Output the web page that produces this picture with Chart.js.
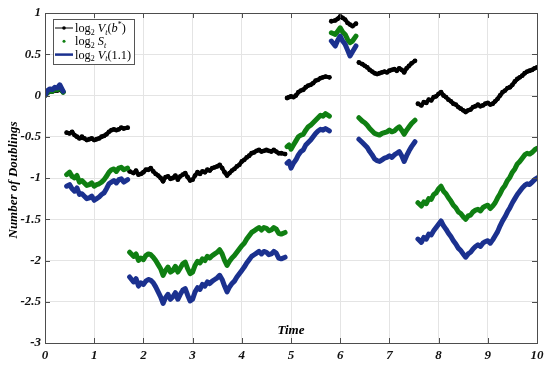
<!DOCTYPE html>
<html><head><meta charset="utf-8">
<script src="https://cdn.jsdelivr.net/npm/chart.js@4/dist/chart.umd.min.js"></script>
<style>html,body{margin:0;padding:0;background:#fff}#wrap{width:550px;height:369px}</style>
</head><body><div id="wrap"><canvas id="c" width="550" height="369"></canvas></div>
<script>
// Shared time axis; null entries in value arrays break the curves into segments
const times = [
  0,0.05,0.1,0.15,0.2,0.25,0.3,0.37, 0.40,
  0.44,0.5,0.55,0.6,0.65,0.7,0.75,0.8,0.85,0.9,0.95,1.0,1.05,1.1,1.15,1.2,1.25,1.3,1.35,1.4,1.45,1.5,1.55,1.6,1.68, 1.70,
  1.72,1.8,1.85,1.9,1.95,2.0,2.05,2.1,2.15,2.2,2.25,2.3,2.35,2.4,2.45,2.5,2.55,2.6,2.65,2.7,2.75,2.8,2.85,2.9,2.95,3.0,
  3.05,3.1,3.15,3.2,3.25,3.3,3.35,3.4,3.45,3.5,3.55,3.6,3.65,3.7,3.75,3.8,3.85,3.9,3.95,4.0,
  4.05,4.1,4.15,4.2,4.25,4.3,4.35,4.4,4.45,4.5,4.55,4.6,4.65,4.7,4.75,4.8,4.88, 4.90,
  4.92,4.96,5.0,5.05,5.1,5.15,5.2,5.25,5.3,5.35,5.4,5.45,5.5,5.55,5.6,5.65,5.7,5.78, 5.80,
  5.82,5.9,5.95,6.0,6.05,6.1,6.15,6.2,6.25,6.32, 6.35,
  6.38,6.45,6.5,6.55,6.6,6.65,6.7,6.75,6.8,6.85,6.9,6.95,7.0,7.05,7.1,7.15,7.2,7.25,7.3,7.35,7.4,7.45,7.52, 7.55,
  7.58,7.65,7.7,7.75,7.8,7.85,7.9,7.95,8.0,8.05,8.1,8.15,8.2,8.25,8.3,8.35,8.4,8.45,8.5,8.55,8.6,8.65,8.7,8.75,8.8,8.85,8.9,8.95,
  9.0,9.05,9.1,9.15,9.2,9.25,9.3,9.35,9.4,9.45,9.5,9.55,9.6,9.65,9.7,9.75,9.8,9.85,9.9,9.95,10.0
];
const logVbStar = [
  0.0,0.03,0.05,0.05,0.06,0.06,0.07,0.04, null,
  -0.45,-0.46,-0.44,-0.48,-0.5,-0.52,-0.5,-0.52,-0.54,-0.53,-0.52,-0.54,-0.53,-0.52,-0.5,-0.49,-0.47,-0.44,-0.42,-0.41,-0.42,-0.41,-0.39,-0.40,-0.39, null,
  -0.92,-0.94,-0.91,-0.96,-0.95,-0.93,-0.9,-0.9,-0.88,-0.92,-0.95,-0.97,-1.0,-1.04,-0.99,-0.98,-1.01,-1.0,-0.97,-1.02,-0.98,-0.96,-0.94,-0.99,-1.03,-1.02,
  -0.97,-0.93,-0.95,-0.92,-0.93,-0.9,-0.91,-0.88,-0.87,-0.86,-0.84,-0.88,-0.93,-0.97,-0.94,-0.91,-0.89,-0.86,-0.84,-0.8,
  -0.78,-0.75,-0.73,-0.7,-0.69,-0.67,-0.66,-0.68,-0.67,-0.66,-0.67,-0.68,-0.66,-0.68,-0.7,-0.7,-0.71, null,
  -0.03,-0.02,-0.01,-0.02,0.0,0.04,0.06,0.07,0.1,0.12,0.13,0.15,0.18,0.19,0.21,0.22,0.23,0.22, null,
  0.9,0.91,0.93,0.96,0.94,0.92,0.88,0.86,0.84,0.87, null,
  0.4,0.38,0.36,0.34,0.31,0.29,0.27,0.26,0.27,0.28,0.29,0.28,0.3,0.31,0.32,0.3,0.33,0.31,0.28,0.33,0.36,0.39,0.42, null,
  -0.1,-0.12,-0.08,-0.09,-0.05,-0.06,-0.02,-0.01,0.02,0.04,0.0,-0.02,-0.05,-0.07,-0.1,-0.11,-0.14,-0.16,-0.18,-0.2,-0.18,-0.17,-0.14,-0.13,-0.11,-0.13,-0.12,-0.1,
  -0.09,-0.11,-0.1,-0.07,-0.04,0.0,0.04,0.06,0.09,0.1,0.13,0.17,0.2,0.22,0.24,0.27,0.29,0.3,0.31,0.33,0.34
];
const logS = [
  0.0,0.04,0.06,0.05,0.08,0.07,0.1,0.04, null,
  -0.96,-0.93,-0.98,-1.0,-0.97,-1.05,-1.03,-1.06,-1.09,-1.08,-1.06,-1.1,-1.08,-1.07,-1.05,-1.02,-0.98,-0.93,-0.9,-0.89,-0.92,-0.88,-0.87,-0.90,-0.88, null,
  -1.9,-1.95,-1.92,-2.0,-1.97,-1.99,-1.94,-1.92,-1.93,-1.96,-2.0,-2.05,-2.1,-2.18,-2.12,-2.08,-2.14,-2.12,-2.07,-2.14,-2.09,-2.04,-2.02,-2.1,-2.16,-2.14,
  -2.06,-2.01,-2.03,-1.98,-2.0,-1.95,-1.97,-1.94,-1.92,-1.9,-1.87,-1.92,-2.0,-2.06,-2.01,-1.97,-1.94,-1.9,-1.86,-1.82,
  -1.79,-1.74,-1.7,-1.66,-1.64,-1.62,-1.6,-1.63,-1.6,-1.61,-1.64,-1.63,-1.6,-1.62,-1.67,-1.68,-1.66, null,
  -0.62,-0.6,-0.65,-0.6,-0.55,-0.5,-0.48,-0.47,-0.42,-0.38,-0.36,-0.33,-0.3,-0.27,-0.24,-0.25,-0.22,-0.25, null,
  0.76,0.74,0.78,0.82,0.77,0.74,0.68,0.64,0.66,0.72, null,
  -0.27,-0.31,-0.33,-0.36,-0.4,-0.43,-0.46,-0.47,-0.48,-0.46,-0.45,-0.44,-0.42,-0.44,-0.43,-0.4,-0.38,-0.42,-0.47,-0.42,-0.38,-0.34,-0.3, null,
  -1.3,-1.34,-1.29,-1.31,-1.25,-1.26,-1.2,-1.18,-1.13,-1.1,-1.16,-1.19,-1.24,-1.28,-1.33,-1.36,-1.41,-1.43,-1.47,-1.5,-1.46,-1.45,-1.41,-1.39,-1.38,-1.4,-1.36,-1.34,
  -1.33,-1.37,-1.34,-1.3,-1.24,-1.19,-1.13,-1.09,-1.03,-0.99,-0.93,-0.89,-0.83,-0.8,-0.76,-0.72,-0.7,-0.71,-0.69,-0.66,-0.64
];
const logV11 = [
  0.0,0.06,0.08,0.07,0.1,0.09,0.13,0.05, null,
  -1.1,-1.08,-1.13,-1.16,-1.12,-1.2,-1.19,-1.22,-1.25,-1.24,-1.22,-1.27,-1.25,-1.23,-1.2,-1.18,-1.13,-1.07,-1.05,-1.03,-1.06,-1.02,-1.01,-1.05,-1.02, null,
  -2.2,-2.26,-2.22,-2.31,-2.27,-2.29,-2.25,-2.23,-2.24,-2.27,-2.32,-2.38,-2.44,-2.52,-2.45,-2.41,-2.47,-2.44,-2.39,-2.47,-2.41,-2.36,-2.34,-2.42,-2.49,-2.47,
  -2.38,-2.33,-2.35,-2.29,-2.31,-2.26,-2.28,-2.25,-2.23,-2.21,-2.18,-2.23,-2.31,-2.38,-2.32,-2.28,-2.25,-2.2,-2.16,-2.12,
  -2.08,-2.03,-1.99,-1.95,-1.93,-1.91,-1.89,-1.92,-1.89,-1.9,-1.93,-1.92,-1.89,-1.91,-1.97,-1.98,-1.96, null,
  -0.82,-0.8,-0.88,-0.82,-0.78,-0.72,-0.68,-0.66,-0.6,-0.57,-0.54,-0.5,-0.46,-0.43,-0.41,-0.42,-0.4,-0.43, null,
  0.66,0.6,0.67,0.72,0.66,0.62,0.55,0.48,0.53,0.6, null,
  -0.53,-0.57,-0.6,-0.63,-0.68,-0.72,-0.77,-0.79,-0.8,-0.78,-0.76,-0.75,-0.73,-0.75,-0.72,-0.7,-0.68,-0.73,-0.8,-0.73,-0.67,-0.62,-0.56, null,
  -1.74,-1.78,-1.72,-1.74,-1.68,-1.69,-1.64,-1.6,-1.56,-1.52,-1.58,-1.62,-1.67,-1.71,-1.76,-1.8,-1.85,-1.88,-1.92,-1.96,-1.92,-1.9,-1.86,-1.83,-1.81,-1.83,-1.79,-1.77,
  -1.76,-1.79,-1.75,-1.7,-1.65,-1.58,-1.52,-1.47,-1.41,-1.36,-1.3,-1.25,-1.2,-1.16,-1.12,-1.09,-1.07,-1.08,-1.05,-1.02,-1.0
];
const xTickValues = [0,1,2,3,4,5,6,7,8,9,10];
const yTickValues = [1,0.5,0,-0.5,-1,-1.5,-2,-2.5,-3];
const xTitle = 'Time';
const yTitle = 'Number of Doublings';

const COL_BLACK = '#000000', COL_GREEN = '#0f7f12', COL_BLUE = '#1b318f';
const pts = vals => times.map((t,i)=>({x:t, y:vals[i]}));
const tickFont = {family:'Liberation Serif', style:'italic', weight:'bold', size:13};

const legendItems = [
  {kind:'linedot', color:COL_BLACK, parts:[{t:'log'},{t:'2',sub:1},{t:' '},{t:'V',it:1},{t:'t',it:1,sub:1},{t:'('},{t:'b',it:1},{t:'*',sup:1},{t:')'}]},
  {kind:'dot', color:COL_GREEN, parts:[{t:'log'},{t:'2',sub:1},{t:' '},{t:'S',it:1},{t:'t',it:1,sub:1}]},
  {kind:'line', color:COL_BLUE, parts:[{t:'log'},{t:'2',sub:1},{t:' '},{t:'V',it:1},{t:'t',it:1,sub:1},{t:'(1.1)'}]}
];

function richWidth(ctx, parts, size){
  let w=0;
  for(const p of parts){
    const s = (p.sub||p.sup)? size*0.65 : size;
    ctx.font = (p.it?'italic ':'') + s + 'px "Liberation Serif"';
    w += ctx.measureText(p.t).width;
  }
  return w;
}
function drawRich(ctx, parts, x, y, size){
  ctx.textBaseline='alphabetic'; ctx.textAlign='left'; ctx.fillStyle='#000';
  for(const p of parts){
    const s = (p.sub||p.sup)? size*0.65 : size;
    ctx.font = (p.it?'italic ':'') + s + 'px "Liberation Serif"';
    const dy = p.sub? size*0.22 : (p.sup? -size*0.38 : 0);
    ctx.fillText(p.t, x, y+dy);
    x += ctx.measureText(p.t).width;
  }
}

const decor = {
  id:'decor',
  afterDraw(chart){
    const ctx = chart.ctx, a = chart.chartArea, xs = chart.scales.x, ys = chart.scales.y;
    ctx.save();
    ctx.strokeStyle='#4d4d4d'; ctx.lineWidth=1;
    ctx.strokeRect(Math.round(a.left)+0.5, Math.round(a.top)+0.5, Math.round(a.right-a.left), Math.round(a.bottom-a.top));
    ctx.beginPath();
    for(const v of xTickValues){
      const px = Math.round(xs.getPixelForValue(v))+0.5;
      ctx.moveTo(px,a.bottom); ctx.lineTo(px,a.bottom-5);
      ctx.moveTo(px,a.top); ctx.lineTo(px,a.top+5);
    }
    for(const v of yTickValues){
      const py = Math.round(ys.getPixelForValue(v))+0.5;
      ctx.moveTo(a.left,py); ctx.lineTo(a.left+5,py);
      ctx.moveTo(a.right,py); ctx.lineTo(a.right-5,py);
    }
    ctx.stroke();
    ctx.fillStyle='#000';
    ctx.font='italic bold 13px "Liberation Serif"';
    ctx.textAlign='center'; ctx.textBaseline='middle';
    ctx.fillText(xTitle, (a.left+a.right)/2, a.bottom-12);
    ctx.save();
    ctx.translate(14, (a.top+a.bottom)/2 + 2);
    ctx.rotate(-Math.PI/2);
    ctx.fillText(yTitle, 0, 0);
    ctx.restore();
    // legend
    const size=12.3, lx=a.left+8, ly=a.top+6, rowH=13.3;
    let maxW=0; for(const it of legendItems) maxW=Math.max(maxW, richWidth(ctx,it.parts,size));
    const bw = 22 + maxW + 3, bh = 45;
    ctx.fillStyle='#fff'; ctx.fillRect(lx, ly, bw, bh);
    ctx.strokeStyle='#555'; ctx.lineWidth=1; ctx.strokeRect(Math.round(lx)+0.5, Math.round(ly)+0.5, Math.round(bw), Math.round(bh));
    legendItems.forEach((it,i)=>{
      const cy = ly + 9 + i*rowH;
      const x0 = lx+2, x1 = lx+20;
      if(it.kind==='linedot'){
        ctx.strokeStyle=it.color; ctx.lineWidth=1; ctx.beginPath(); ctx.moveTo(x0,cy); ctx.lineTo(x1,cy); ctx.stroke();
        ctx.fillStyle=it.color; ctx.beginPath(); ctx.arc((x0+x1)/2,cy,1.8,0,Math.PI*2); ctx.fill();
      } else if(it.kind==='dot'){
        ctx.fillStyle=it.color; ctx.beginPath(); ctx.arc((x0+x1)/2,cy,1.5,0,Math.PI*2); ctx.fill();
      } else {
        ctx.strokeStyle=it.color; ctx.lineWidth=2.5; ctx.beginPath(); ctx.moveTo(x0,cy); ctx.lineTo(x1,cy); ctx.stroke();
      }
      drawRich(ctx, it.parts, lx+22, cy+4, size);
    });
    ctx.restore();
  }
};

new Chart(document.getElementById('c'), {
  type:'line',
  data:{ datasets:[
    {label:'log2 Vt(b*)', data:pts(logVbStar), borderColor:COL_BLACK, backgroundColor:COL_BLACK, borderWidth:4, pointRadius:2.4, pointBorderWidth:0, order:3},
    {label:'log2 St', data:pts(logS), borderColor:COL_GREEN, backgroundColor:COL_GREEN, borderWidth:5, pointRadius:0, order:2},
    {label:'log2 Vt(1.1)', data:pts(logV11), borderColor:COL_BLUE, backgroundColor:COL_BLUE, borderWidth:5, pointRadius:0, order:1}
  ]},
  options:{
    responsive:false, animation:false, devicePixelRatio:1,
    spanGaps:false,
    layout:{padding:{top:13, right:13, left:0, bottom:0}},
    plugins:{legend:{display:false}, tooltip:{enabled:false}},
    elements:{line:{tension:0, borderJoinStyle:'round', borderCapStyle:'round'}},
    scales:{
      x:{type:'linear', min:0, max:10,
         afterBuildTicks:s=>{ s.ticks = xTickValues.map(v=>({value:v})); },
         ticks:{font:tickFont, color:'#111', padding:5, maxRotation:0, callback:v=>String(v)},
         grid:{color:'#e4e4e4', drawTicks:false}, border:{display:true, color:'#4d4d4d'},
         afterFit:s=>{ s.height = 26; }},
      y:{type:'linear', min:-3, max:1,
         afterBuildTicks:s=>{ s.ticks = yTickValues.map(v=>({value:v})); },
         ticks:{font:tickFont, color:'#111', padding:4, callback:v=>String(v)},
         grid:{color:'#e4e4e4', drawTicks:false}, border:{display:true, color:'#4d4d4d'},
         afterFit:s=>{ s.width = 45; }}
    }
  },
  plugins:[decor]
});
</script></body></html>
